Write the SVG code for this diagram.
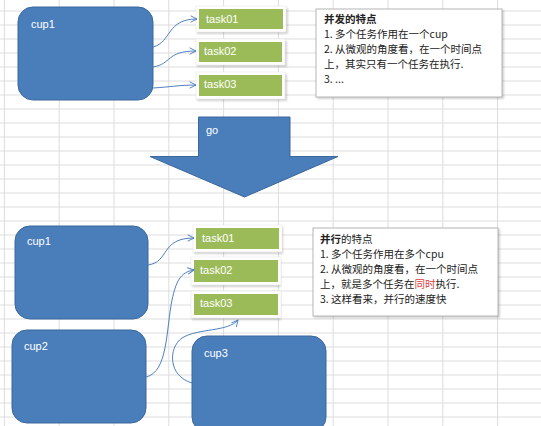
<svg xmlns="http://www.w3.org/2000/svg" width="541" height="426" viewBox="0 0 541 426">
<style>
.cup{fill:#4a7ebb;stroke:#3a679c;stroke-width:1}
.lbl{font-family:"Liberation Sans","Open Sans",sans-serif;font-size:11px;fill:#ffffff}
.frame{fill:#ffffff;stroke:#e6e6e6;stroke-width:0.6}
.shadow{fill:#000000;opacity:0.18}
.task{fill:#9bbb59}
.note{fill:#ffffff;stroke:#b5b5b5;stroke-width:1}
.nt{font-family:"Noto Sans CJK SC","Liberation Sans",sans-serif;font-size:10.5px;fill:#222222}
.b{font-weight:bold}
.red{fill:#e03c3c}
.con{fill:none;stroke:#4f81bd;stroke-width:1;marker-end:url(#ah)}
</style>
<defs>
<pattern id="gridp" x="3.9" y="10.5" width="54.8" height="14" patternUnits="userSpaceOnUse">
<path d="M0,0.5 H54.8 M0.5,0 V14" fill="none" stroke="#dcdcdc" stroke-width="1"/>
</pattern>
<marker id="ah" viewBox="0 0 10 10" refX="9" refY="5" markerWidth="8" markerHeight="8" orient="auto" markerUnits="userSpaceOnUse">
<path d="M1,1 L9,5 L1,9" fill="none" stroke="#4f81bd" stroke-width="1.2"/>
</marker>
<filter id="blur" x="-20%" y="-20%" width="140%" height="140%"><feGaussianBlur stdDeviation="1.2"/></filter>
</defs>
<rect width="541" height="426" fill="#ffffff"/>
<rect id="grid" width="541" height="426" fill="url(#gridp)"/>

<g id="cup1-top">
<rect class="cup" x="18" y="7" width="135" height="93" rx="15"/>
<text class="lbl" x="31" y="28">cup1</text>
</g>
<g id="task01-top">
<rect class="shadow" x="197" y="8" width="91" height="26" filter="url(#blur)"/>
<rect class="frame" x="196" y="6" width="90" height="26"/>
<rect class="task" x="199" y="9" width="84" height="20"/>
<text class="lbl" x="206" y="23">task01</text>
</g>
<g id="task02-top">
<rect class="shadow" x="197" y="41" width="90" height="26" filter="url(#blur)"/>
<rect class="frame" x="196" y="39" width="89" height="26"/>
<rect class="task" x="199" y="42" width="83" height="20"/>
<text class="lbl" x="204" y="55">task02</text>
</g>
<g id="task03-top">
<rect class="shadow" x="197" y="74" width="90" height="27" filter="url(#blur)"/>
<rect class="frame" x="196" y="72" width="89" height="27"/>
<rect class="task" x="199" y="75" width="83" height="21"/>
<text class="lbl" x="204" y="88">task03</text>
</g>
<g id="note-top">
<rect class="shadow" x="317" y="10" width="187" height="89" filter="url(#blur)"/>
<rect class="note" x="316" y="9" width="186" height="88"/>
<text class="nt" x="324" y="23"><tspan class="b">并发的特点</tspan></text>
<text class="nt" x="324" y="38">1. 多个任务作用在一个cup</text>
<text class="nt" x="324" y="53">2. 从微观的角度看，在一个时间点</text>
<text class="nt" x="324" y="68">上，其实只有一个任务在执行.</text>
<text class="nt" x="324" y="83">3. ...</text>
</g>

<g id="go-arrow">
<path class="cup" d="M198.5,117 H290 V156.5 H338 L244.5,197 L150,156.5 H198.5 Z"/>
<text class="lbl" x="206" y="134">go</text>
</g>

<g id="cup1-bottom">
<rect class="cup" x="15" y="226" width="133" height="93" rx="15"/>
<text class="lbl" x="27" y="245">cup1</text>
</g>
<g id="cup2-bottom">
<rect class="cup" x="12" y="330" width="134" height="93" rx="15"/>
<text class="lbl" x="24" y="350">cup2</text>
</g>
<g id="cup3-bottom">
<rect class="cup" x="192" y="336" width="134" height="96" rx="15"/>
<text class="lbl" x="204" y="357">cup3</text>
</g>
<g id="task01-bottom">
<rect class="shadow" x="194" y="227" width="89" height="27" filter="url(#blur)"/>
<rect class="frame" x="193" y="225" width="89" height="27"/>
<rect class="task" x="196" y="228" width="83" height="21"/>
<text class="lbl" x="202" y="242">task01</text>
</g>
<g id="task02-bottom">
<rect class="shadow" x="192" y="259" width="89" height="28" filter="url(#blur)"/>
<rect class="frame" x="191" y="257" width="90" height="28"/>
<rect class="task" x="194" y="260" width="84" height="22"/>
<text class="lbl" x="200" y="274">task02</text>
</g>
<g id="task03-bottom">
<rect class="shadow" x="192" y="293" width="89" height="27" filter="url(#blur)"/>
<rect class="frame" x="191" y="291" width="90" height="27"/>
<rect class="task" x="194" y="294" width="84" height="21"/>
<text class="lbl" x="200" y="307">task03</text>
</g>
<g id="note-bottom">
<rect class="shadow" x="314" y="229" width="186" height="89" filter="url(#blur)"/>
<rect class="note" x="313" y="228" width="185" height="88"/>
<text class="nt" x="320" y="243"><tspan class="b">并行</tspan>的特点</text>
<text class="nt" x="320" y="258">1. 多个任务作用在多个cpu</text>
<text class="nt" x="320" y="273">2. 从微观的角度看，在一个时间点</text>
<text class="nt" x="320" y="288">上，就是多个任务在<tspan class="red">同时</tspan>执行.</text>
<text class="nt" x="320" y="303">3. 这样看来，并行的速度快</text>
</g>

<g id="connectors">
<path class="con" d="M153,47 C172,42 166,19 197,19"/>
<path class="con" d="M153,67 C172,64 166,51 196,51"/>
<path class="con" d="M153,88 C170,87 180,85 196,85"/>
<path class="con" d="M148,265 C170,262 160,238 194,238"/>
<path class="con" d="M146,377 C168,372 166,330 172,300 C176,282 180,272 194,270"/>
<path class="con" d="M192,383 C168,376 168,348 182,338 C198,328 228,332 238,320"/>
</g>
</svg>
